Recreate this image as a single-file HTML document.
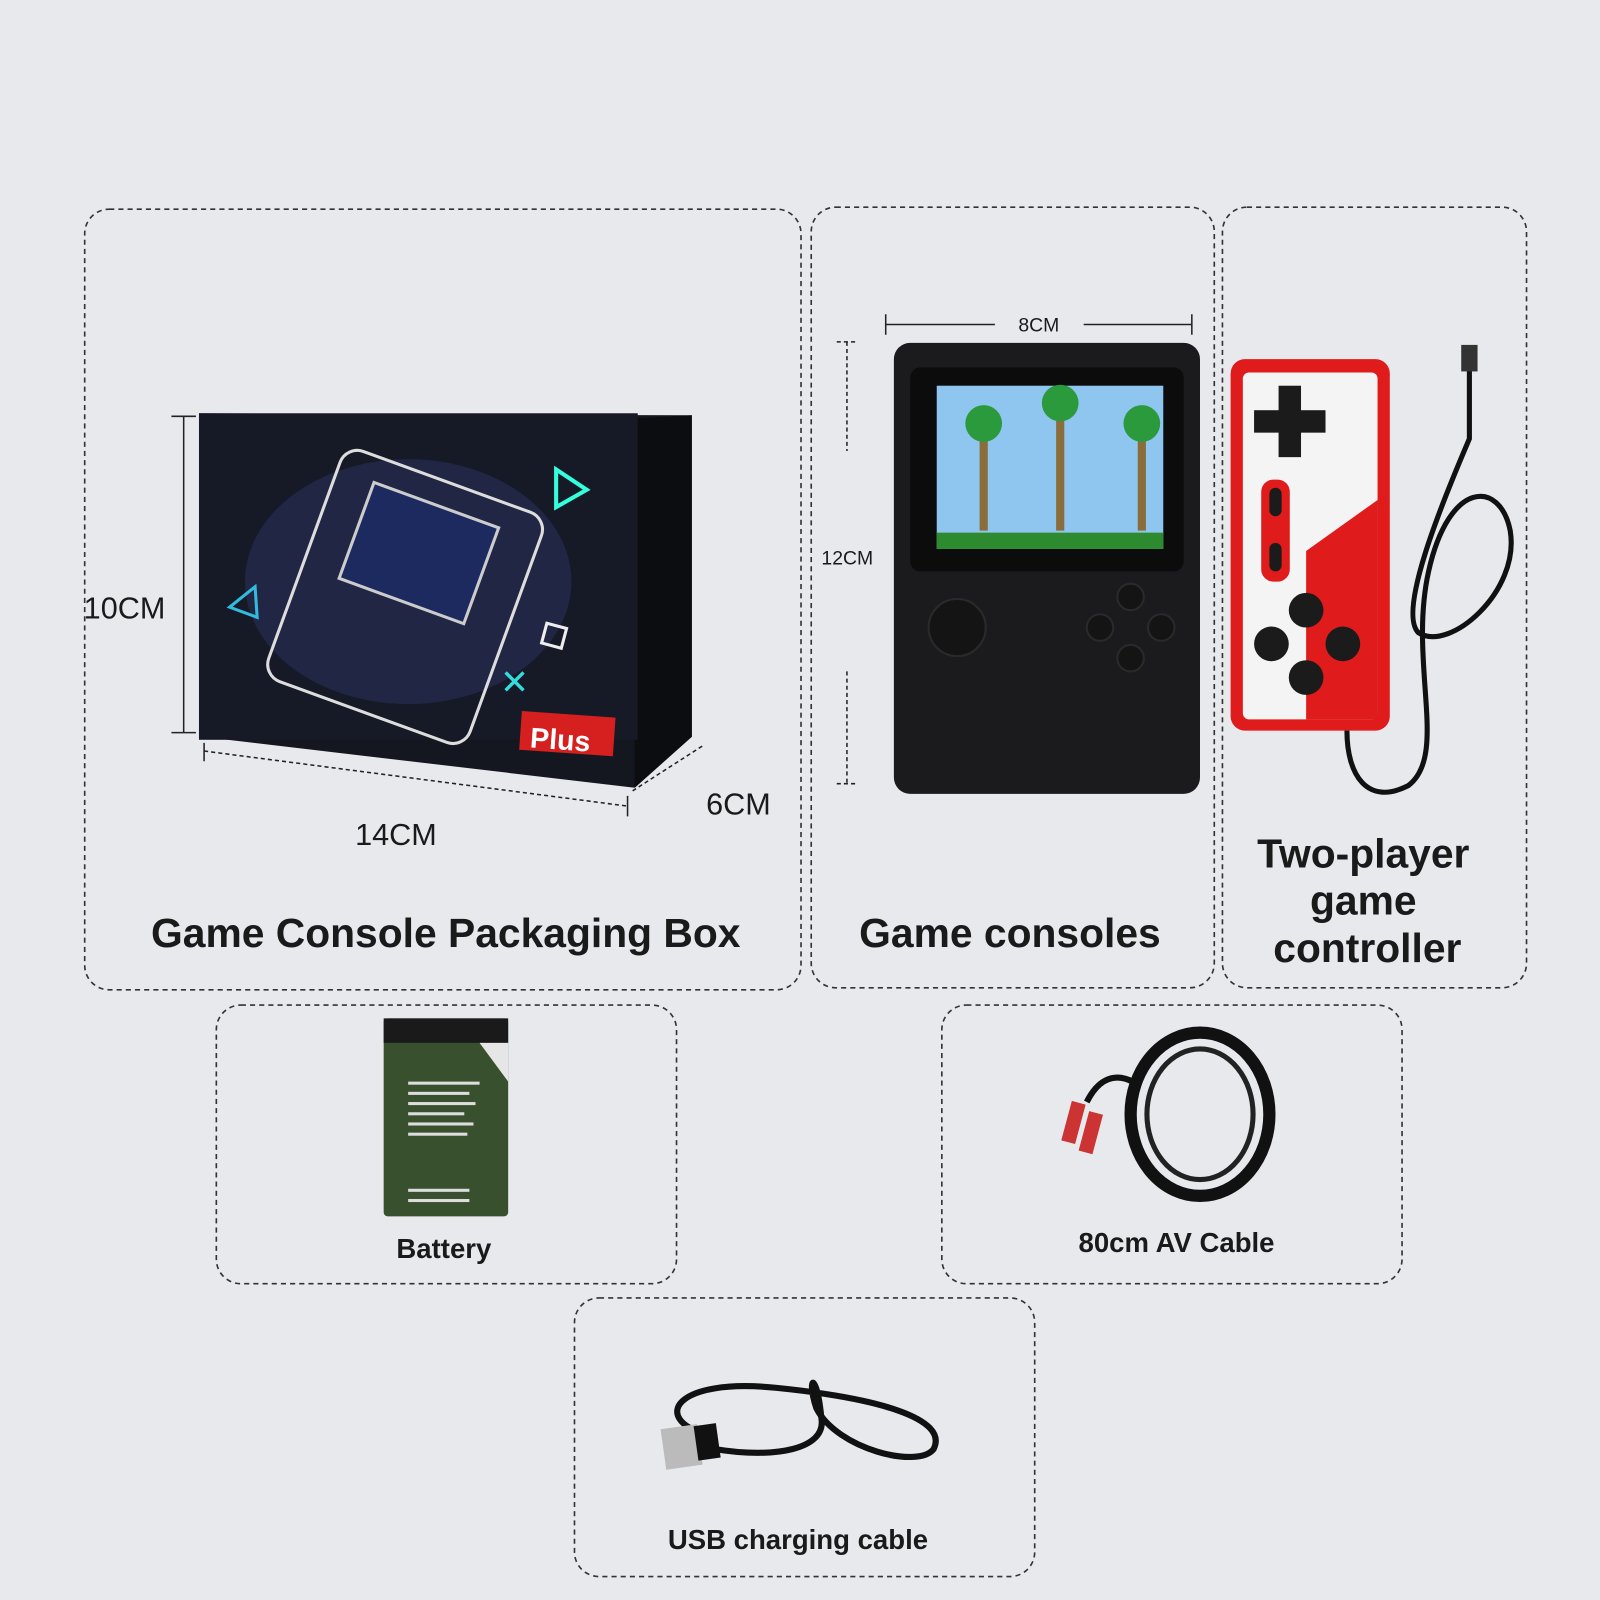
<!DOCTYPE html>
<html><head><meta charset="utf-8"><style>
html,body{margin:0;padding:0;background:#e7e9ed;}
svg{display:block}
text{font-family:"Liberation Sans","DejaVu Sans",sans-serif;font-weight:bold;fill:#1a1a1a}
</style></head><body>
<svg width="1600" height="1600" viewBox="0 0 1568 1568" xmlns="http://www.w3.org/2000/svg">
<rect width="1568" height="1568" fill="#e7e9ed"/>
<g fill="none" stroke="#333" stroke-width="1.6" stroke-dasharray="5,4">
<rect x="83" y="205" width="702" height="765" rx="24"/>
<rect x="795" y="203" width="395" height="765" rx="24"/>
<rect x="1198" y="203" width="298" height="765" rx="24"/>
<rect x="212" y="985" width="451" height="273" rx="24"/>
<rect x="923" y="985" width="451" height="273" rx="24"/>
<rect x="563" y="1272" width="451" height="273" rx="24"/>
</g>
<!-- box -->
<polygon points="195,405 678,407 678,722 622,772 198,722" fill="#14171f"/>
<polygon points="622,410 678,407 678,722 622,772" fill="#0c0d11"/>
<rect x="195" y="405" width="430" height="320" fill="#161a26"/>
<ellipse cx="400" cy="570" rx="160" ry="120" fill="#2a3260" opacity="0.5"/>
<rect x="292" y="465" width="210" height="240" rx="18" fill="none" stroke="#ddd" stroke-width="3" transform="rotate(20 397 585)"/>
<rect x="330" y="490" width="130" height="100" fill="#1d2a60" stroke="#ccc" stroke-width="3" transform="rotate(20 397 585)"/>
<polygon points="545,460 575,480 545,497" fill="none" stroke="#3fd" stroke-width="4"/>
<polygon points="250,575 225,595 252,605" fill="none" stroke="#3bd" stroke-width="3"/>
<rect x="533" y="613" width="20" height="20" fill="none" stroke="#eee" stroke-width="3" transform="rotate(15 543 623)"/>
<text x="490" y="680" style="fill:#3dd;font-size:34px">✕</text>
<rect x="510" y="700" width="92" height="38" fill="#d62020" transform="rotate(4 556 719)"/>
<text x="520" y="735" style="fill:#fff;font-size:28px" transform="rotate(4 556 719)">Plus</text>
<g stroke="#222" stroke-width="1.5" fill="none">
<path d="M180,408 V718 M168,408 H192 M168,718 H192"/>
<path d="M200,736 L615,790" stroke-dasharray="4,3"/><path d="M200,728 V746 M615,780 V800"/>
<path d="M620,775 L690,730" stroke-dasharray="4,3"/>
</g>
<text x="82" y="606" style="font-size:30px;font-weight:normal">10CM</text>
<text x="348" y="828" style="font-size:30px;font-weight:normal">14CM</text>
<text x="692" y="798" style="font-size:30px;font-weight:normal">6CM</text>
<text x="148" y="928" style="font-size:40px">Game Console Packaging Box</text>
<!-- console -->
<rect x="876" y="336" width="300" height="442" rx="16" fill="#1b1b1d"/>
<rect x="892" y="360" width="268" height="200" rx="10" fill="#0c0c0c"/>
<rect x="918" y="378" width="222" height="160" fill="#8fc6f0"/>
<rect x="918" y="522" width="222" height="16" fill="#2d8a2f"/>
<rect x="960" y="420" width="8" height="100" fill="#8a6d3a"/><rect x="1035" y="400" width="8" height="120" fill="#8a6d3a"/><rect x="1115" y="420" width="8" height="100" fill="#8a6d3a"/>
<circle cx="964" cy="415" r="18" fill="#2b9a3c"/><circle cx="1039" cy="395" r="18" fill="#2b9a3c"/><circle cx="1119" cy="415" r="18" fill="#2b9a3c"/>
<g fill="#141414" stroke="#2a2a2a" stroke-width="2"><circle cx="938" cy="615" r="28"/><circle cx="1108" cy="585" r="13"/><circle cx="1078" cy="615" r="13"/><circle cx="1138" cy="615" r="13"/><circle cx="1108" cy="645" r="13"/></g>
<g stroke="#222" stroke-width="1.5" fill="none"><path d="M868,318 H975 M1062,318 H1168 M868,308 V328 M1168,308 V328"/><path d="M830,335 V442 M830,658 V768 M820,335 H840 M820,768 H840" stroke-dasharray="4,3"/></g>
<text x="998" y="325" style="font-size:19px;font-weight:normal">8CM</text>
<text x="805" y="553" style="font-size:19px;font-weight:normal">12CM</text>
<text x="842" y="928" style="font-size:40px">Game consoles</text>
<!-- controller -->
<rect x="1206" y="352" width="156" height="364" rx="14" fill="#e01b1b"/>
<rect x="1218" y="365" width="132" height="340" rx="6" fill="#f4f4f4"/>
<polygon points="1280,540 1350,490 1350,705 1280,705" fill="#e01b1b"/>
<rect x="1253" y="378" width="22" height="70" fill="#1b1b1b"/><rect x="1229" y="402" width="70" height="22" fill="#1b1b1b"/>
<rect x="1236" y="470" width="28" height="100" rx="12" fill="#e01b1b"/>
<g fill="#1b1b1b"><circle cx="1280" cy="598" r="17"/><circle cx="1246" cy="631" r="17"/><circle cx="1316" cy="631" r="17"/><circle cx="1280" cy="664" r="17"/><rect x="1244" y="478" width="12" height="28" rx="6"/><rect x="1244" y="532" width="12" height="28" rx="6"/></g>
<path d="M1320,716 C1320,760 1340,790 1380,770 C1420,740 1380,650 1400,560 C1420,470 1470,470 1480,520 C1490,580 1420,640 1390,620 C1370,600 1410,500 1440,430 L1440,360" fill="none" stroke="#111" stroke-width="5"/>
<rect x="1432" y="338" width="16" height="26" fill="#333"/>
<text x="1336" y="850" text-anchor="middle" style="font-size:40px">Two-player</text>
<text x="1336" y="896" text-anchor="middle" style="font-size:40px">game</text>
<text x="1340" y="943" text-anchor="middle" style="font-size:40px">controller</text>
<!-- battery -->
<rect x="376" y="998" width="122" height="194" rx="4" fill="#39502e"/>
<rect x="376" y="998" width="122" height="24" fill="#1a1a1a"/>
<polygon points="470,1022 498,1022 498,1060" fill="#e6e6e6"/>
<g fill="#ddd"><rect x="400" y="1060" width="70" height="3"/><rect x="400" y="1070" width="60" height="3"/><rect x="400" y="1080" width="66" height="3"/><rect x="400" y="1090" width="55" height="3"/><rect x="400" y="1100" width="64" height="3"/><rect x="400" y="1110" width="58" height="3"/><rect x="400" y="1165" width="60" height="3"/><rect x="400" y="1175" width="60" height="3"/></g>
<text x="435" y="1233" text-anchor="middle" style="font-size:27px">Battery</text>
<!-- AV cable -->
<ellipse cx="1176" cy="1092" rx="68" ry="80" fill="none" stroke="#111" stroke-width="12"/>
<ellipse cx="1176" cy="1092" rx="52" ry="64" fill="none" stroke="#222" stroke-width="5"/>
<path d="M1110,1060 C1090,1050 1075,1060 1065,1080" fill="none" stroke="#111" stroke-width="6"/>
<rect x="1045" y="1080" width="14" height="40" fill="#c33" transform="rotate(15 1052 1100)"/><rect x="1062" y="1090" width="14" height="40" fill="#c33" transform="rotate(15 1069 1110)"/>
<text x="1153" y="1227" text-anchor="middle" style="font-size:27px">80cm AV Cable</text>
<!-- USB -->
<path d="M690,1405 C640,1390 660,1350 760,1360 C860,1370 930,1390 915,1420 C900,1440 820,1420 800,1380 C790,1350 800,1340 805,1390 C810,1420 760,1430 700,1420" fill="none" stroke="#111" stroke-width="6"/>
<rect x="650" y="1398" width="36" height="40" fill="#bbb" transform="rotate(-8 668 1418)"/>
<rect x="682" y="1396" width="22" height="34" fill="#111" transform="rotate(-8 693 1413)"/>
<text x="782" y="1518" text-anchor="middle" style="font-size:27px">USB charging cable</text>
</svg>
</body></html>
